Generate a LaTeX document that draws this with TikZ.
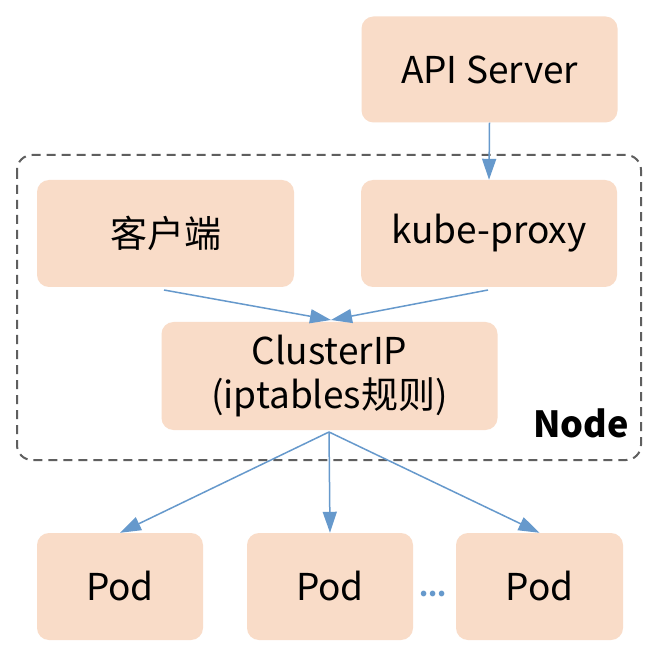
\documentclass[tikz,border=0pt]{standalone}
\usepackage{fontspec}
\setmainfont{Noto Sans CJK SC}
\usetikzlibrary{arrows.meta}
\definecolor{peach}{HTML}{F9DCC8}
\definecolor{arrowblue}{HTML}{6699CC}
\definecolor{dashgray}{HTML}{5F5F5F}
\begin{document}
\begin{tikzpicture}[x=1pt,y=-1pt,
  box/.style={fill=peach, draw=none, rounded corners=12pt, inner sep=0pt, font=\fontsize{37}{44}\selectfont, align=center},
  conn/.style={draw=arrowblue, line width=1.5pt, -{Triangle[length=21pt,width=14pt]}}]
\useasboundingbox (0,0) rectangle (664,652);
\fill[white] (0,0) rectangle (664,652);
% dashed node frame
\draw[dashgray, line width=2pt, dash pattern=on 9pt off 6pt, rounded corners=15pt] (17,155) rectangle (641,460);
% boxes
\node[box, minimum width=256pt, minimum height=106pt] (api) at (489.5,69.5) {API Server};
\node[box, minimum width=257pt, minimum height=107pt] (client) at (165.5,233.5) {客户端};
\node[box, minimum width=256pt, minimum height=107pt] (proxy) at (489,233.5) {kube-proxy};
\node[box, minimum width=336pt, minimum height=108pt] (cip) at (329.5,376) {ClusterIP\\(iptables规则)};
\node[box, minimum width=166pt, minimum height=107pt] (pod1) at (120,586.5) {Pod};
\node[box, minimum width=166pt, minimum height=107pt] (pod2) at (330,586.5) {Pod};
\node[box, minimum width=167pt, minimum height=107pt] (pod3) at (539.5,586.5) {Pod};
\node[font=\fontsize{36}{40}\selectfont\bfseries] (nodelbl) at (581,423) {Node};
\node[text=arrowblue, font=\fontsize{26}{30}\selectfont\bfseries] (dots) at (433,594) {...};
% connectors
\coordinate (cin) at (331,320);
\coordinate (cout) at (329,432);
\draw[conn] (api.south) -- (proxy.north);
\draw[conn] (164,290) -- (cin);
\draw[conn] (488,290) -- (cin);
\draw[conn] (cout) -- (pod1.north);
\draw[conn] (cout) -- (pod2.north);
\draw[conn] (cout) -- (pod3.north);
\end{tikzpicture}
\end{document}
